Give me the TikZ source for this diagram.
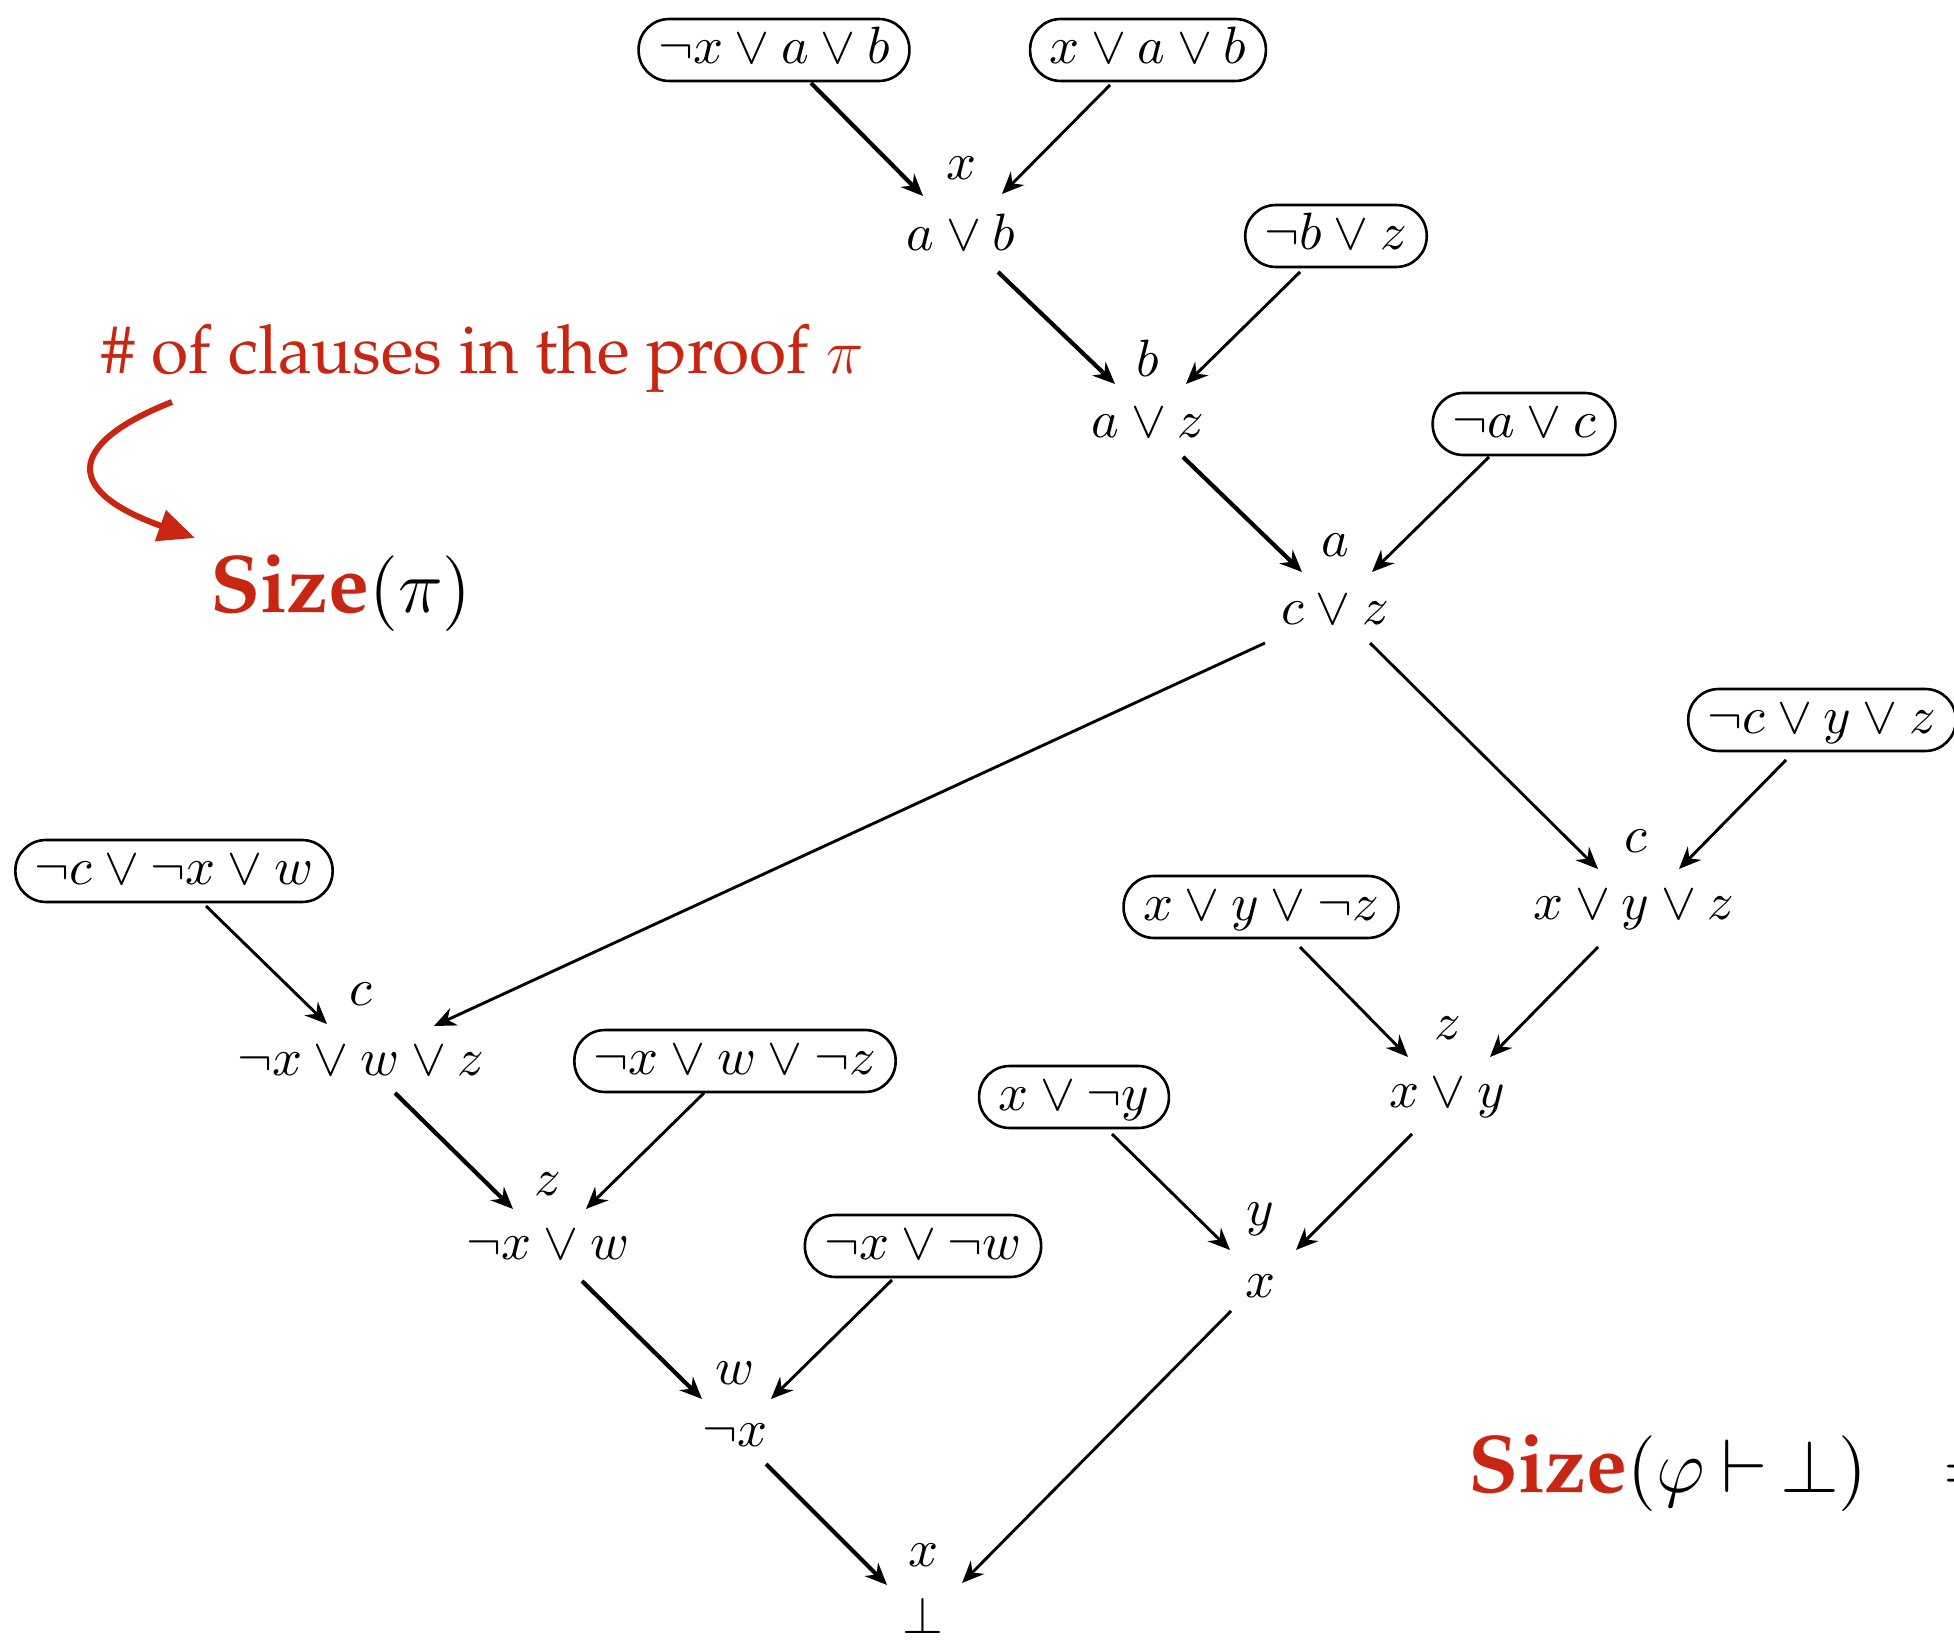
\documentclass[tikz,border=0pt]{standalone}
\usepackage{graphicx}
\usetikzlibrary{arrows.meta,calc}
\definecolor{sred}{RGB}{200,38,18}
\newcommand{\palfont}{\fontencoding{T1}\fontfamily{ppl}\selectfont}
\begin{document}
\begin{tikzpicture}[x=0.19048pt,y=-0.19048pt,
  clause/.style={draw, line width=0.5pt, rounded corners=5.8pt, minimum height=11.8pt,
    inner xsep=3.7pt, inner ysep=0pt, text height=7pt, text depth=2pt},
  res/.style={inner sep=0pt, text height=7pt, text depth=2pt},
  piv/.style={inner sep=0pt},
  tip/.style={-{Stealth[length=4.2pt,width=3.6pt,inset=1.4pt]}},
  thk/.style={tip, line width=0.8pt},
  thn/.style={tip, line width=0.55pt},
]
\useasboundingbox (0,0) rectangle (1954,1643);
\clip (0,0) rectangle (1954,1643);

% clauses (boxed premises)
\node[clause] (B1) at (774,50) {$\neg x\vee a\vee b$};
\node[clause] (B2) at (1148,50) {$x\vee a\vee b$};
\node[clause] (B3) at (1336,236) {$\neg b\vee z$};
\node[clause] (B4) at (1524,424) {$\neg a\vee c$};
\node[clause] (B5) at (1822,720) {$\neg c\vee y\vee z$};
\node[clause] (B6) at (174,871) {$\neg c\vee \neg x\vee w$};
\node[clause] (B7) at (1261,907) {$x\vee y\vee \neg z$};
\node[clause] (B8) at (735,1061) {$\neg x\vee w\vee \neg z$};
\node[clause] (B9) at (1074,1097) {$x\vee \neg y$};
\node[clause] (B10) at (923,1246) {$\neg x\vee \neg w$};

% resolvents
\node[res] (N1) at (961,237) {$a\vee b$};
\node[res] (N2) at (1148,424) {$a\vee z$};
\node[res] (N3) at (1335,611) {$c\vee z$};
\node[res] (N4) at (1634,906) {$x\vee y\vee z$};
\node[res] (N5) at (361,1062) {$\neg x\vee w\vee z$};
\node[res] (N6) at (1447,1094) {$x\vee y$};
\node[res] (N7) at (548,1246) {$\neg x\vee w$};
\node[res] (N8) at (1260,1284) {$x$};
\node[res] (N9) at (735,1433) {$\neg x$};
\node[res] (N10) at (923,1620) {$\bot$};

% pivot labels
\node[piv] (P1) at (961,168) {$x$};
\node[piv] (P2) at (1148,358) {$b$};
\node[piv] (P3) at (1335,545) {$a$};
\node[piv] (P4) at (1636,841) {$c$};
\node[piv] (P5) at (361,994) {$c$};
\node[piv] (P6) at (1448,1028) {$z$};
\node[piv] (P7) at (548,1184) {$z$};
\node[piv] (P8) at (1260,1219) {$y$};
\node[piv] (P9) at (735,1373) {$w$};
\node[piv] (P10) at (923,1555) {$x$};

% edges
\draw[thk] ($(B1)+(37,33)$) -- ($(N1)+(-38,-41)$);
\draw[thn] ($(B2)+(-38,35)$) -- ($(N1)+(41,-43)$);
\draw[thk] ($(N1)+(37,35)$) -- ($(N2)+(-33,-40)$);
\draw[thn] ($(B3)+(-36,36)$) -- ($(N2)+(38,-40)$);
\draw[thk] ($(N2)+(35,33)$) -- ($(N3)+(-33,-39)$);
\draw[thn] ($(B4)+(-35,33)$) -- ($(N3)+(37,-39)$);
\draw[thn] ($(N3)+(-70,32)$) -- ($(N5)+(73,-36)$);
\draw[thn] ($(N3)+(35,32)$) -- ($(N4)+(-36,-37)$);
\draw[thn] ($(B5)+(-36,40)$) -- ($(N4)+(45,-37)$);
\draw[thn] ($(B6)+(32,35)$) -- ($(N5)+(-34,-38)$);
\draw[thn] ($(B7)+(39,40)$) -- ($(N6)+(-39,-37)$);
\draw[thn] ($(N4)+(-36,41)$) -- ($(N6)+(43,-37)$);
\draw[thk] ($(N5)+(34,31)$) -- ($(N7)+(-35,-37)$);
\draw[thn] ($(B8)+(-31,32)$) -- ($(N7)+(38,-37)$);
\draw[thn] ($(B9)+(38,37)$) -- ($(N8)+(-30,-34)$);
\draw[thn] ($(N6)+(-35,40)$) -- ($(N8)+(36,-34)$);
\draw[thk] ($(N7)+(34,35)$) -- ($(N9)+(-33,-34)$);
\draw[thn] ($(B10)+(-31,34)$) -- ($(N9)+(36,-34)$);
\draw[thk] ($(N9)+(31,31)$) -- ($(N10)+(-36,-35)$);
\draw[thn] ($(N8)+(-29,27)$) -- ($(N10)+(39,-37)$);

% red annotations
\node[anchor=base west, inner sep=0pt, text=sred] (T1) at (100,374)
  {\palfont\fontsize{12.9}{15}\selectfont \# of clauses in the proof $\pi$};
\node[anchor=base west, inner sep=0pt] (T2) at (209,613)
  {\palfont\fontsize{15.6}{19}\selectfont\textcolor{sred}{\textbf{Size}}$(\pi)$};
\coordinate (C1) at (172,402);
\coordinate (C2) at (195,538);
\draw[sred, line width=1.15pt, -{Triangle[length=7pt,width=6pt]}]
  (C1) .. controls (75,440) and (55,488) .. (C2);
\node[anchor=base west, inner sep=0pt] (T3) at (1467,1492)
  {\palfont\fontsize{15.6}{19}\selectfont\textcolor{sred}{\textbf{Size}}$(\varphi\mskip4mu{\vdash}\mskip3mu\bot)$};
\node[anchor=base west, inner sep=0pt] (T4) at (1942,1492)
  {\palfont\fontsize{15.6}{19}\selectfont $=$};
\end{tikzpicture}
\end{document}
